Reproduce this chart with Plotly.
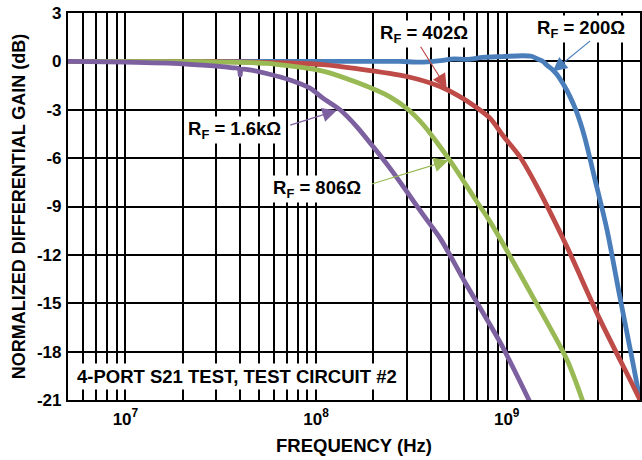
import plotly.graph_objects as go
import math

# ---------------- data ----------------
freq_200 = [5e6, 5e7, 1e8, 2.0e8, 2.75e8, 3.5e8, 4.5e8, 5.3e8, 6.2e8, 7.5e8, 9.5e8,
            1.2e9, 1.35e9, 1.45e9, 1.55e9, 1.62e9, 1.75e9, 1.83e9, 2.0e9, 2.15e9,
            2.32e9, 2.55e9, 2.9e9, 3.35e9, 3.92e9, 4.59e9, 5.0e9]
gain_200 = [0.0, 0.0, 0.0, 0.0, 0.0, -0.05, 0.05, 0.15, 0.12, 0.25, 0.3,
            0.35, 0.32, 0.15, 0.0, -0.22, -0.55, -0.8, -1.5, -2.2,
            -3.1, -4.6, -7.3, -10.4, -14.6, -18.7, -21.0]

freq_402 = [5e6, 3e7, 7.3e7, 1.087e8, 1.633e8, 2.99e8, 4.47e8, 5.47e8, 6.65e8, 8.17e8,
            9.55e8, 1.17e9, 1.44e9, 2.07e9, 3.08e9, 4.59e9, 5.0e9]
gain_402 = [0.0, -0.02, -0.1, -0.2, -0.45, -0.94, -1.56, -2.08, -2.7, -3.52,
            -4.6, -5.9, -7.75, -11.5, -16.0, -20.1, -21.0]

freq_806 = [5e6, 2.5e7, 5.5e7, 7.3e7, 1.087e8, 1.633e8, 2.44e8, 3.05e8, 3.65e8, 4.29e8,
            5.04e8, 5.92e8, 6.96e8, 8.17e8, 1.37e9, 2.07e9, 2.51e9]
gain_806 = [0.0, -0.02, -0.12, -0.28, -0.6, -1.3, -2.2, -3.0, -3.93, -5.0,
            -6.16, -7.4, -8.69, -9.93, -14.6, -18.5, -21.1]

freq_1k6 = [5e6, 1e7, 2e7, 3e7, 3.66e7, 3.95e7, 4.0e7, 4.05e7, 4.5e7, 5.5e7, 7.3e7,
            9.29e7, 1.087e8, 1.336e8, 1.633e8, 1.99e8, 2.44e8, 2.99e8, 3.64e8, 4.47e8,
            6.18e8, 9.21e8, 1.32e9]
gain_1k6 = [0.0, -0.05, -0.15, -0.3, -0.4, -0.45, -0.85, -0.5, -0.53, -0.75, -1.15,
            -1.66, -2.28, -3.0, -4.04, -5.28, -6.62, -8.07, -9.51, -10.96,
            -13.9, -17.4, -21.1]

y_ticks = [-21, -18, -15, -12, -9, -6, -3, 0, 3]
y_ticktext = ["-21", "-18", "-15", "-12", "-9", "-6", "-3", "0", "3"]

x_grid = [m * 10 ** e for e in (6, 7, 8, 9) for m in range(1, 10)
          if 5e6 <= m * 10 ** e <= 5e9]
x_ticktext = ["10<sup>%d</sup>" % round(math.log10(v))
              if abs(math.log10(v) - round(math.log10(v))) < 1e-9 else ""
              for v in x_grid]

series = [
    ("R<sub>F</sub> = 200Ω", freq_200, gain_200, "#4A7EBB"),
    ("R<sub>F</sub> = 402Ω", freq_402, gain_402, "#BE4B48"),
    ("R<sub>F</sub> = 806Ω", freq_806, gain_806, "#98B954"),
    ("R<sub>F</sub> = 1.6kΩ", freq_1k6, gain_1k6, "#7D60A0"),
]

FONT = "Liberation Sans"

fig = go.Figure()
for name, f, g, c in series:
    fig.add_trace(go.Scatter(x=f, y=g, mode="lines", name=name,
                             line=dict(color=c, width=4.8, shape="spline", smoothing=0.8),
                             showlegend=False, hoverinfo="skip"))

labels = [
    # text, text_x(log10 f), text_y(dB), tip_x(log10 f), tip_y(dB), ax, ay, color
    ("R<sub>F</sub> = 402Ω", 8.5635, 1.70, 8.6851, -1.664, -27, -43, "#BE4B48"),
    ("R<sub>F</sub> = 200Ω", 9.387, 1.98, 9.241, -0.635, 39, -32, "#4A7EBB"),
    ("R<sub>F</sub> = 1.6kΩ", 7.5748, -4.25, 8.1082, -3.05, -48, 15, "#7D60A0"),
    ("R<sub>F</sub> = 806Ω", 8.005, -7.9, 8.6936, -6.148, -78, 24, "#98B954"),
]
for txt, tx, ty, px, py, ax, ay, c in labels:
    fig.add_annotation(x=tx, y=ty, xref="x", yref="y", text=txt, showarrow=False,
                       font=dict(family=FONT, size=18.5, color="black", weight="bold"),
                       bgcolor="white", borderpad=1)
    fig.add_annotation(x=px, y=py, xref="x", yref="y", text="", showarrow=True,
                       ax=ax, ay=ay, arrowcolor=c, arrowhead=2, arrowsize=2.4,
                       arrowwidth=1.2)

fig.add_annotation(x=7.5827, y=-19.54, xref="x", yref="y",
                   text="4-PORT S21 TEST, TEST CIRCUIT #2", showarrow=False,
                   font=dict(family=FONT, size=18.5, color="black", weight="bold"),
                   bgcolor="white", borderpad=2)

fig.update_layout(
    width=642, height=460,
    margin=dict(l=68, r=2, t=13, b=59.5, autoexpand=False),
    paper_bgcolor="white", plot_bgcolor="white",
    font=dict(family=FONT, color="black", size=17, weight="bold"),
)
fig.update_xaxes(type="log", range=[math.log10(5e6), math.log10(5e9)],
                 tickvals=x_grid, ticktext=x_ticktext,
                 showgrid=True, gridcolor="black", gridwidth=2.2,
                 showline=True, linecolor="black", linewidth=2.2, mirror=True,
                 ticks="", ticklabelstandoff=2,
                 tickfont=dict(family=FONT, size=17, weight="bold"),
                 title=dict(text="FREQUENCY (Hz)", standoff=12,
                            font=dict(family=FONT, size=18.5, weight="bold")),
                 zeroline=False)
fig.update_yaxes(range=[-21, 3], tickvals=y_ticks, ticktext=y_ticktext,
                 showgrid=True, gridcolor="black", gridwidth=2.2,
                 showline=True, linecolor="black", linewidth=2.2, mirror=True,
                 ticks="", ticklabelstandoff=1,
                 tickfont=dict(family=FONT, size=17, weight="bold"),
                 title=dict(text="NORMALIZED DIFFERENTIAL GAIN (dB)", standoff=7,
                            font=dict(family=FONT, size=18, weight="bold")),
                 zeroline=False)

fig.write_html("out.html", config={"displayModeBar": False},
               post_script="document.body.style.margin='0';document.body.style.overflow='hidden';")
